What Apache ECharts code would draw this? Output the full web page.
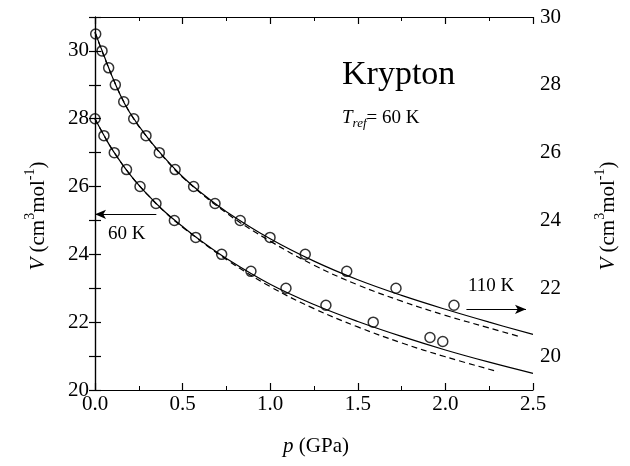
<!DOCTYPE html>
<html>
<head>
<meta charset="utf-8">
<script src="https://cdn.jsdelivr.net/npm/echarts@6/dist/echarts.min.js"></script>
<style>
  html, body { margin: 0; padding: 0; background: #fff; }
  #chart { width: 630px; height: 466px; }
</style>
</head>
<body>
<div id="chart"></div>
<script>
// ---------- data ----------
// 60 K isotherm (left axis)
const lowerPointP = [0, 0.051, 0.11, 0.18, 0.257, 0.348, 0.453, 0.575, 0.723, 0.89, 1.09, 1.318, 1.588, 1.912, 1.985];
const lowerPointV = [28.0, 27.5, 27.0, 26.5, 26.0, 25.5, 25.0, 24.5, 24.0, 23.5, 23.0, 22.5, 22.0, 21.55, 21.43];
const lowerSolidP = [0, 0.05, 0.1, 0.2, 0.3, 0.4, 0.5, 0.6, 0.75, 1.0, 1.25, 1.5, 1.75, 2.0, 2.25, 2.5];
const lowerSolidV = [28.0, 27.52, 27.08, 26.35, 25.76, 25.25, 24.82, 24.42, 23.88, 23.12, 22.52, 22.02, 21.58, 21.18, 20.82, 20.49];
const lowerDashP = [0, 0.05, 0.1, 0.2, 0.3, 0.4, 0.5, 0.75, 1.0, 1.25, 1.5, 1.75, 2.0, 2.3];
const lowerDashV = [28.0, 27.52, 27.08, 26.35, 25.76, 25.24, 24.80, 23.85, 23.05, 22.40, 21.86, 21.39, 20.98, 20.54];

// 110 K isotherm (right axis)
const upperPointP = [0.004, 0.04, 0.078, 0.116, 0.164, 0.221, 0.291, 0.367, 0.457, 0.563, 0.685, 0.829, 0.999, 1.2, 1.437, 1.718, 2.049];
const upperPointV = [29.5, 29.0, 28.5, 28.0, 27.5, 27.0, 26.5, 26.0, 25.5, 25.0, 24.5, 24.0, 23.5, 23.0, 22.5, 22.0, 21.5];
const upperSolidP = [0, 0.05, 0.1, 0.15, 0.2, 0.3, 0.4, 0.5, 0.6, 0.75, 1.0, 1.25, 1.5, 1.75, 2.0, 2.25, 2.5];
const upperSolidV = [29.55, 28.88, 28.22, 27.64, 27.17, 26.44, 25.83, 25.29, 24.84, 24.26, 23.46, 22.8, 22.25, 21.79, 21.38, 21.0, 20.64];
const upperDashP = [0, 0.1, 0.2, 0.3, 0.4, 0.5, 0.75, 1.0, 1.25, 1.5, 1.75, 2.0, 2.25, 2.42];
const upperDashV = [29.55, 28.22, 27.17, 26.44, 25.82, 25.27, 24.22, 23.39, 22.68, 22.1, 21.62, 21.2, 20.83, 20.58];

// axis settings
const xRange = [0, 2.5];
const leftRange = [20, 31];
const rightRange = [19, 30];

// annotation arrows (data coordinates)
const arrow60 = { fromP: 0.35, toP: 0, V: 25.18 };
const arrow110 = { fromP: 2.12, toP: 2.46, V: 21.38 };

// ---------- chart ----------
const zip = (a, b) => a.map((v, i) => [v, b[i]]);
const FONT = '"Liberation Serif", "DejaVu Serif", serif';
const chart = echarts.init(document.getElementById('chart'), null, { renderer: 'canvas' });

const axisLineStyle = { color: '#000', width: 1.2 };
const lineSeries = (p, v, yIdx, dashed) => ({
  type: 'line',
  data: zip(p, v),
  yAxisIndex: yIdx,
  showSymbol: false,
  smooth: 0.4,
  lineStyle: { color: '#000', width: 1.2, type: dashed ? [6, 4] : 'solid' },
  z: 2,
  silent: true
});
const pointSeries = (p, v, yIdx) => ({
  type: 'scatter',
  data: zip(p, v),
  yAxisIndex: yIdx,
  symbol: 'circle',
  symbolSize: 10,
  itemStyle: { color: 'rgba(255,255,255,0)', borderColor: '#000', borderWidth: 1.5 },
  z: 3,
  silent: true
});
const arrowMark = (a) => ({
  silent: true,
  symbol: ['none', 'arrow'],
  symbolSize: [7, 11],
  label: { show: false },
  lineStyle: { color: '#000', width: 1.2, type: 'solid' },
  data: [[{ coord: [a.fromP, a.V] }, { coord: [a.toP, a.V] }]]
});

const lowerSolid = lineSeries(lowerSolidP, lowerSolidV, 0, false);
lowerSolid.markLine = arrowMark(arrow60);
const upperSolid = lineSeries(upperSolidP, upperSolidV, 1, false);
upperSolid.markLine = arrowMark(arrow110);

const option = {
  animation: false,
  backgroundColor: '#fff',
  grid: { left: 95, right: 97, top: 17, bottom: 76, containLabel: false },
  xAxis: [
    {
      type: 'value', position: 'bottom', min: xRange[0], max: xRange[1], interval: 0.5,
      axisLine: { show: true, lineStyle: axisLineStyle },
      axisTick: { show: true, inside: true, length: 7, lineStyle: axisLineStyle },
      minorTick: { show: true, splitNumber: 2, length: 4, lineStyle: { color: '#000', width: 1 } },
      splitLine: { show: false },
      axisLabel: { color: '#000', fontFamily: FONT, fontSize: 21, margin: 4, formatter: v => v.toFixed(1) }
    },
    {
      type: 'value', position: 'top', min: xRange[0], max: xRange[1], interval: 0.5,
      axisLine: { show: true, lineStyle: axisLineStyle },
      axisTick: { show: true, inside: true, length: 7, lineStyle: axisLineStyle },
      minorTick: { show: true, splitNumber: 2, length: 4, lineStyle: { color: '#000', width: 1 } },
      splitLine: { show: false },
      axisLabel: { show: false }
    }
  ],
  yAxis: [
    {
      type: 'value', position: 'left', min: leftRange[0], max: leftRange[1], interval: 1,
      axisLine: { show: true, lineStyle: axisLineStyle },
      axisTick: { show: true, inside: true, length: 6, lineStyle: axisLineStyle },
      splitLine: { show: false },
      axisLabel: { color: '#000', fontFamily: FONT, fontSize: 21, margin: 6,
        formatter: v => (v % 2 === 0 && v <= 30) ? String(v) : '' }
    },
    {
      type: 'value', position: 'right', min: rightRange[0], max: rightRange[1], interval: 1,
      axisLine: { show: true, lineStyle: axisLineStyle },
      axisTick: { show: true, inside: true, length: 6, lineStyle: axisLineStyle },
      splitLine: { show: false },
      axisLabel: { color: '#000', fontFamily: FONT, fontSize: 21, margin: 7,
        formatter: v => (v % 2 === 0) ? String(v) : '' }
    }
  ],
  series: [
    lowerSolid,
    lineSeries(lowerDashP, lowerDashV, 0, true),
    pointSeries(lowerPointP, lowerPointV, 0),
    upperSolid,
    lineSeries(upperDashP, upperDashV, 1, true),
    pointSeries(upperPointP, upperPointV, 1)
  ],
  graphic: [
    { type: 'text', x: 342, y: 75, style: { text: 'Krypton', font: '34px ' + FONT, fill: '#000', verticalAlign: 'middle', align: 'left' } },
    { type: 'text', x: 342, y: 118, style: {
        text: '{i|T}{sub|ref}{n|= 60 K}', fill: '#000', verticalAlign: 'middle', align: 'left',
        rich: {
          i: { fontFamily: FONT, fontSize: 19, fontStyle: 'italic', lineHeight: 24, verticalAlign: 'middle' },
          sub: { fontFamily: FONT, fontSize: 13, fontStyle: 'italic', lineHeight: 12, verticalAlign: 'bottom' },
          n: { fontFamily: FONT, fontSize: 19, lineHeight: 24, verticalAlign: 'middle' }
        } } },
    { type: 'text', x: 108, y: 234, style: { text: '60 K', font: '19px ' + FONT, fill: '#000', verticalAlign: 'middle', align: 'left' } },
    { type: 'text', x: 468, y: 286, style: { text: '110 K', font: '19px ' + FONT, fill: '#000', verticalAlign: 'middle', align: 'left' } },
    { type: 'text', x: 316, y: 446, style: {
        text: '{i|p}{n| (GPa)}', fill: '#000', align: 'center', verticalAlign: 'middle',
        rich: {
          i: { fontFamily: FONT, fontSize: 21, fontStyle: 'italic' },
          n: { fontFamily: FONT, fontSize: 21 }
        } } },
    { type: 'text', x: 36, y: 216, rotation: Math.PI / 2, style: {
        text: '{i|V}{n| (cm}{s|3}{n|mol}{s|-1}{n|)}', fill: '#000', align: 'center', verticalAlign: 'middle',
        rich: {
          i: { fontFamily: FONT, fontSize: 21, fontStyle: 'italic', lineHeight: 26, verticalAlign: 'bottom' },
          n: { fontFamily: FONT, fontSize: 21, lineHeight: 26, verticalAlign: 'bottom' },
          s: { fontFamily: FONT, fontSize: 14, lineHeight: 14, verticalAlign: 'top' }
        } } },
    { type: 'text', x: 606, y: 216, rotation: Math.PI / 2, style: {
        text: '{i|V}{n| (cm}{s|3}{n|mol}{s|-1}{n|)}', fill: '#000', align: 'center', verticalAlign: 'middle',
        rich: {
          i: { fontFamily: FONT, fontSize: 21, fontStyle: 'italic', lineHeight: 26, verticalAlign: 'bottom' },
          n: { fontFamily: FONT, fontSize: 21, lineHeight: 26, verticalAlign: 'bottom' },
          s: { fontFamily: FONT, fontSize: 14, lineHeight: 14, verticalAlign: 'top' }
        } } }
  ]
};
chart.setOption(option);
</script>
</body>
</html>
